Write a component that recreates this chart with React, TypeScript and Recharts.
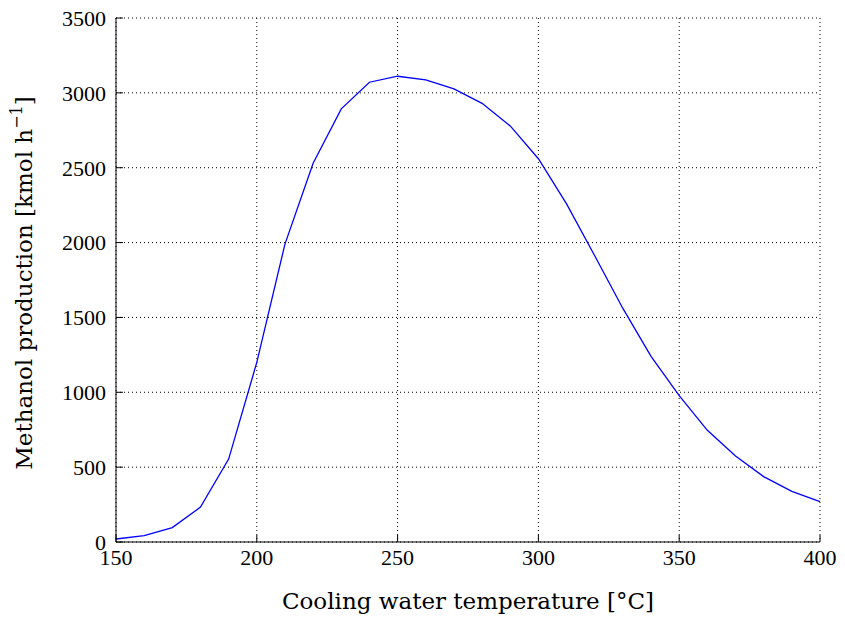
import { LineChart, Line, XAxis, YAxis, CartesianGrid } from "recharts";

// cooling water temperature [°C] and methanol production [kmol/h]
const temps = [150, 160, 170, 180, 190, 200, 210, 220, 230, 240, 250, 260, 270, 280, 290, 300, 310, 320, 330, 340, 350, 360, 370, 380, 390, 400];
const production = [20, 42, 96, 233, 554, 1200, 1990, 2530, 2893, 3071, 3111, 3087, 3026, 2930, 2779, 2560, 2258, 1912, 1560, 1240, 977, 746, 574, 437, 338, 269];

const xTicks = [150, 200, 250, 300, 350, 400];
const yTicks = [0, 500, 1000, 1500, 2000, 2500, 3000, 3500];

const data = temps.map((t, i) => ({ t, v: production[i] }));

const FONT = "'Liberation Serif', 'DejaVu Serif', serif";
const LABEL_FONT = "'DejaVu Serif', 'Liberation Serif', serif";
const tickStyle = { fontSize: 22, fill: "#000", fontFamily: FONT };

function XLabel({ viewBox }: { viewBox?: { x: number; y: number; width: number; height: number } }) {
  if (!viewBox) return null;
  return (
    <text x={viewBox.x + viewBox.width / 2} y={609} textAnchor="middle" fontSize={23} fontFamily={LABEL_FONT} fill="#000">
      Cooling water temperature [°C]
    </text>
  );
}

function YLabel() {
  return (
    <text transform="translate(32, 283) rotate(-90)" textAnchor="middle" fontSize={23} fontFamily={LABEL_FONT} fill="#000">
      Methanol production [kmol h
      <tspan dy={-10} fontSize={16}>−1</tspan>
      <tspan dy={10}>]</tspan>
    </text>
  );
}

export default function App() {
  return (
    <div style={{ position: "absolute", left: 0, top: 0, width: 845, height: 622, background: "#fff" }}>
      <LineChart width={845} height={622} data={data} margin={{ top: 18, right: 25, bottom: 20, left: 16 }}>
        <CartesianGrid stroke="#000" strokeDasharray="1 3" strokeWidth={1} />
        <XAxis
          dataKey="t"
          type="number"
          domain={[150, 400]}
          ticks={xTicks}
          height={60}
          axisLine={{ stroke: "#000" }}
          tickLine={{ stroke: "#000" }}
          tickSize={-7}
          tickMargin={14}
          tick={tickStyle}
          label={<XLabel />}
        />
        <XAxis
          xAxisId="top"
          orientation="top"
          dataKey="t"
          type="number"
          domain={[150, 400]}
          ticks={xTicks}
          height={0}
          axisLine={{ stroke: "#000" }}
          tickLine={{ stroke: "#000" }}
          tickSize={-7}
          tick={false}
        />
        <YAxis
          type="number"
          domain={[0, 3500]}
          ticks={yTicks}
          width={100}
          axisLine={{ stroke: "#000" }}
          tickLine={{ stroke: "#000" }}
          tickSize={-7}
          tickMargin={17}
          tick={tickStyle}
          label={<YLabel />}
        />
        <YAxis
          yAxisId="right"
          orientation="right"
          type="number"
          domain={[0, 3500]}
          ticks={yTicks}
          width={0}
          axisLine={{ stroke: "#000" }}
          tickLine={{ stroke: "#000" }}
          tickSize={-7}
          tick={false}
        />
        <Line
          type="linear"
          dataKey="v"
          stroke="#0000ff"
          strokeWidth={1.3}
          dot={false}
          isAnimationActive={false}
        />
      </LineChart>
    </div>
  );
}
